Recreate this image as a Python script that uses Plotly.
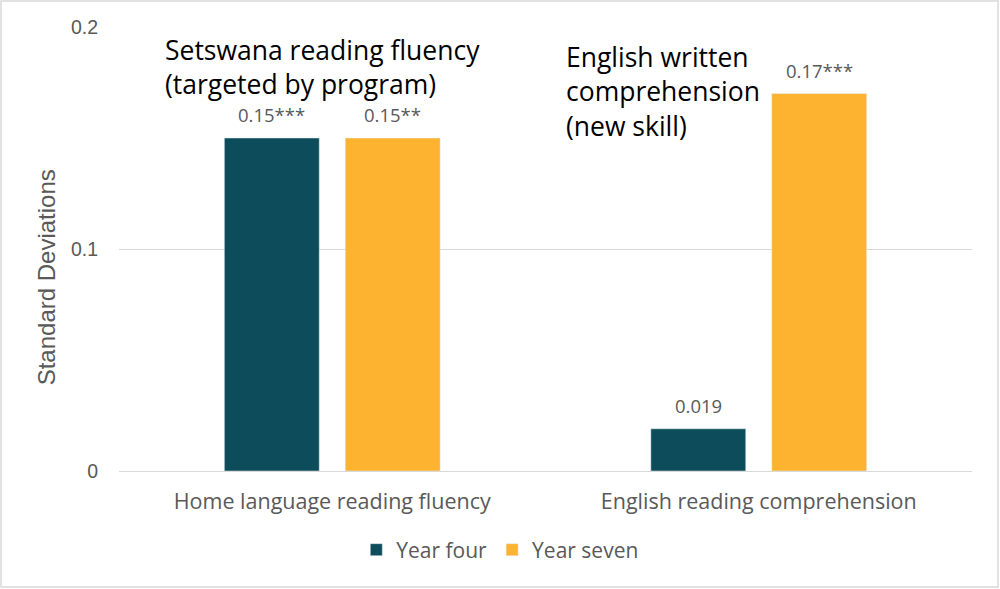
import plotly.graph_objects as go

categories = ["Home language reading fluency", "English reading comprehension"]
year_four = [0.15, 0.019]
year_seven = [0.15, 0.17]
year_four_labels = ["0.15***", "0.019"]
year_seven_labels = ["0.15**", "0.17***"]
y_ticks = [0, 0.1, 0.2]
y_tick_text = ["0", "0.1", "0.2"]

GRAY = "#595959"
FONT = "Open Sans"
AXFONT = "Liberation Sans"
W, H = 1000, 589
L, R, T, B = 119, 28, 27, 118
BARGAP = 0.433

fig = go.Figure()
fig.add_trace(go.Bar(x=categories, y=year_four, name="Year four", marker_color="#0d4c5a"))
fig.add_trace(go.Bar(x=categories, y=year_seven, name="Year seven", marker_color="#fdb32f"))

fig.update_layout(
    width=W, height=H,
    margin=dict(l=L, r=R, t=T, b=B),
    paper_bgcolor="white", plot_bgcolor="white",
    font=dict(family=FONT, color=GRAY, size=17),
    barmode="group", bargap=BARGAP, bargroupgap=0.215,
    showlegend=True,
    legend=dict(orientation="h", x=0.447, xanchor="center", y=-0.178, yanchor="middle",
                font=dict(size=21, color=GRAY), itemwidth=30, traceorder="normal"),
    xaxis=dict(showline=True, linecolor="#d9d9d9", ticks="", tickfont=dict(size=21.5, color=GRAY),
               ticklabelstandoff=11),
    yaxis=dict(range=[0, 0.2], tickvals=y_ticks, ticktext=y_tick_text,
               showgrid=True, gridcolor="#d9d9d9", zeroline=False,
               tickfont=dict(size=19.5, color=GRAY, family=AXFONT), ticklabelstandoff=20),
)

# y-axis title, placed like the original (slightly below the plot's middle)
fig.add_annotation(text="Standard Deviations", xref="paper", yref="paper", x=-0.084, y=0.437,
                   textangle=-90, showarrow=False, xanchor="center", yanchor="middle",
                   font=dict(size=24, color=GRAY, family=AXFONT))

# value labels above bars, offset to each bar of the group
slot = (W - L - R) / len(categories) * (1 - BARGAP) / 2
for sign, vals, labels in [(-1, year_four, year_four_labels), (1, year_seven, year_seven_labels)]:
    for cat, v, lab in zip(categories, vals, labels):
        fig.add_annotation(x=cat, y=v, text=lab, showarrow=False, xref="x", yref="y",
                           xshift=sign * slot / 2, yshift=9, yanchor="bottom",
                           font=dict(size=18.5, color=GRAY))

fig.add_annotation(text="Setswana reading fluency<br>(targeted by program)",
                   xref="paper", yref="paper", x=0.052, y=0.993, xanchor="left", yanchor="top",
                   align="left", showarrow=False, font=dict(size=26.5, color="black", family=FONT))
fig.add_annotation(text="English written<br>comprehension<br>(new skill)",
                   xref="paper", yref="paper", x=0.522, y=0.978, xanchor="left", yanchor="top",
                   align="left", showarrow=False, font=dict(size=26.5, color="black", family=FONT))

# chart border
fig.add_shape(type="rect", xref="paper", yref="paper", x0=-0.1383, x1=1.0305, y0=-0.2613, y1=1.0586,
              line=dict(color="#d9d9d9", width=1.5), layer="below")

fig.write_html("out.html", config={"displayModeBar": False},
               post_script="document.body.style.margin='0';")
